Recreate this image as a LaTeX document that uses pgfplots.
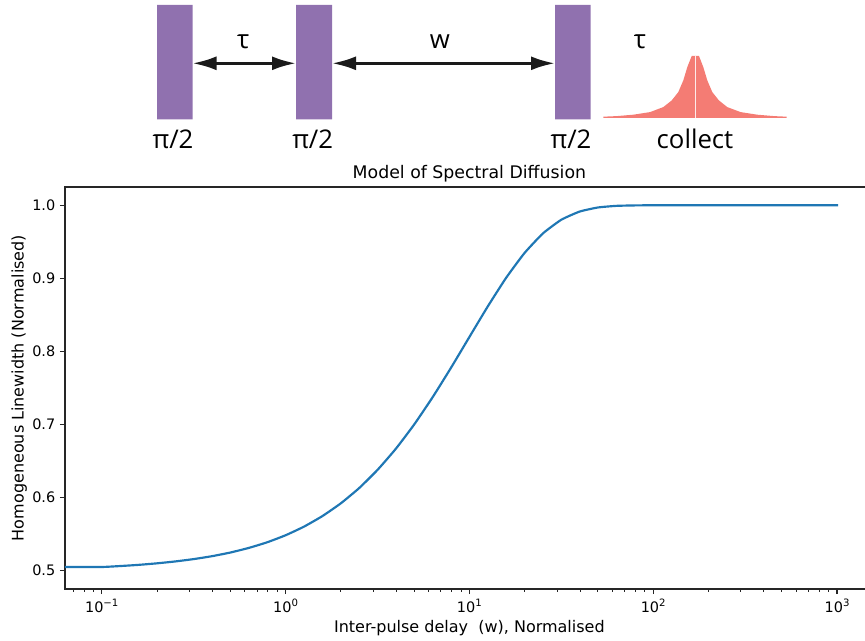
\documentclass[border=0pt]{standalone}
\usepackage{fontspec}
\setmainfont{DejaVu Sans}
\newfontfamily\diagfont{Open Sans}
\usepackage{pgfplots}
\pgfplotsset{compat=1.18}
\usetikzlibrary{arrows.meta}
\definecolor{mplblue}{HTML}{1F77B4}
\definecolor{pulse}{RGB}{144,113,175}
\definecolor{peak}{RGB}{244,124,116}
\definecolor{arrowc}{HTML}{1A1A1A}
\newcommand{\pw}[1]{10\raisebox{0.85ex}{\fontsize{7.6}{9}\selectfont #1}}
\newcommand{\dg}{\diagfont\fontsize{19.3}{22}\selectfont}
\newcommand{\tf}{\fontsize{10.83}{13}\selectfont}
\newcommand{\lf}{\fontsize{12}{14}\selectfont}
\newcommand{\ttf}{\fontsize{13}{15.5}\selectfont}

\pgfplotstableread{
w       lw
0.0631  0.505
0.1     0.5051
0.1259  0.5064
0.1585  0.5080
0.1995  0.5101
0.2512  0.5127
0.3162  0.5159
0.3981  0.5199
0.5012  0.5249
0.6310  0.5312
0.7943  0.5389
1.0     0.5485
1.2589  0.5603
1.5849  0.5747
1.9953  0.5921
2.5119  0.6130
3.1623  0.6379
3.9811  0.6669
5.0119  0.7002
6.3096  0.7374
7.9433  0.7777
10.0    0.8198
12.589  0.8616
15.849  0.9008
19.953  0.9347
25.119  0.9615
31.623  0.9802
39.811  0.9914
50.119  0.9970
63.096  0.9992
79.433  0.9998
100     1.0000
200     1.0000
400     1.0000
1000    1.0000
}\curve

\begin{document}
\begin{tikzpicture}
\clip (0pt,0pt) rectangle (648.75pt,-480.75pt);
% ---------- pulse-sequence diagram (pixel coordinates) ----------
\begin{axis}[at={(0pt,0pt)}, anchor=north west, scale only axis,
  width=648.75pt, height=480.75pt, xmin=0, xmax=865, ymin=0, ymax=641,
  y dir=reverse, hide axis, clip=false]
\addplot[fill=pulse, draw=none] coordinates {(157,5) (192.5,5) (192.5,119.5) (157,119.5) (157,5)};
\addplot[fill=pulse, draw=none] coordinates {(296,5) (332,5) (332,119.5) (296,119.5) (296,5)};
\addplot[fill=pulse, draw=none] coordinates {(555,5) (590.5,5) (590.5,119.5) (555,119.5) (555,5)};
\addplot[arrowc, line width=2.25pt, {Latex[length=18pt,width=10.5pt]}-{Latex[length=18pt,width=10.5pt]}] coordinates {(192.5,63.3) (296,63.3)};
\addplot[arrowc, line width=2.25pt, {Latex[length=18pt,width=10.5pt]}-{Latex[length=18pt,width=10.5pt]}] coordinates {(332,63.3) (555,63.3)};
\addplot[fill=peak, draw=none] coordinates {
 (603.3,117.9) (603.3,116.7) (616.7,116.1) (633.3,114.7) (650,112.1) (663.3,107.1)
 (671.7,100.4) (678.3,92.1) (683.3,80.4) (687.3,67.1) (691.7,56) (699,56)
 (703.3,67.1) (707.3,80.4) (712.3,92.1) (718.9,100.4) (727.3,107.1) (740.6,112.1)
 (757.3,114.7) (773.9,116.1) (786.7,116.7) (786.7,117.9) (603.3,117.9)};
\addplot[white!85!peak, line width=0.6pt] coordinates {(695.3,56) (695.3,117.9)};
\node[anchor=base, font=\dg] at (axis cs:243.3,48.5) {τ};
\node[anchor=base, font=\dg] at (axis cs:440,48.5) {w};
\node[anchor=base, font=\dg] at (axis cs:640,48.5) {τ};
\node[anchor=base, font=\dg] at (axis cs:173,149) {π/2};
\node[anchor=base, font=\dg] at (axis cs:312.7,149) {π/2};
\node[anchor=base, font=\dg] at (axis cs:571,149) {π/2};
\node[anchor=base, font=\dg] at (axis cs:695,148.5) {collect};
\end{axis}
% ---------- main plot ----------
\begin{axis}[at={(48.75pt,-140.25pt)}, anchor=north west, scale only axis,
  width=606.6pt, height=301.5pt,
  xmode=log, log basis x=10, xmin=0.063096, xmax=1584.9,
  ymin=0.475, ymax=1.025,
  axis line style={black!85, line width=0.87pt},
  tick align=outside, xtick pos=lower, ytick pos=left,
  major tick length=3.79pt, minor tick length=2.17pt,
  every tick/.style={black!85},
  major tick style={line width=0.87pt},
  minor tick style={line width=0.65pt},
  xtick={0.1,1,10,100,1000},
  xticklabels={\pw{−1},\pw{0},\pw{1},\pw{2},\pw{3}},
  minor xtick={0.07,0.08,0.09,0.2,0.3,0.4,0.5,0.6,0.7,0.8,0.9,2,3,4,5,6,7,8,9,20,30,40,50,60,70,80,90,200,300,400,500,600,700,800,900},
  ytick={0.5,0.6,0.7,0.8,0.9,1.0},
  yticklabel style={/pgf/number format/.cd, fixed, fixed zerofill, precision=1, assume math mode=true},
  tick label style={font=\tf},
  every axis title shift=0pt,
  title={Model of Spectral Diffusion},
  title style={font=\ttf, at={(axis description cs:0.5,1.02073)}, anchor=base},
  xlabel={Inter-pulse delay\ \ (w), Normalised},
  xlabel style={font=\lf, at={(axis description cs:0.5,-0.10945)}, anchor=base},
  ylabel={Homogeneous Linewidth (Normalised)},
  ylabel style={font=\lf, at={(axis description cs:-0.05127,0.5)}, anchor=base, rotate=0},
]
\addplot[mplblue, line width=1.625pt, line cap=rect, smooth, tension=0.3] table[x=w, y=lw] {\curve};
\end{axis}
\end{tikzpicture}
\end{document}
